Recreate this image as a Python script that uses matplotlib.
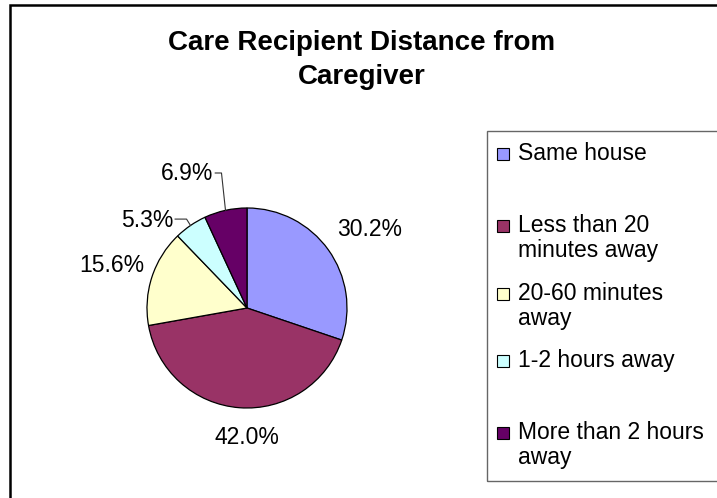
import numpy as np
import matplotlib
matplotlib.use("Agg")
import matplotlib.pyplot as plt
from matplotlib.patches import Rectangle

# ---- data ----
categories = ["Same house", "Less than 20 minutes away", "20-60 minutes away",
              "1-2 hours away", "More than 2 hours away"]
legend_lines = [["Same house"], ["Less than 20", "minutes away"], ["20-60 minutes", "away"],
                ["1-2 hours away"], ["More than 2 hours", "away"]]
values = [30.2, 42.0, 15.6, 5.3, 6.9]
colors = ["#9999FF", "#993366", "#FFFFCC", "#CCFFFF", "#660066"]
title_lines = ["Care Recipient Distance from", "Caregiver"]

W, H = 717, 498
plt.rcParams['font.family'] = ['Liberation Sans', 'DejaVu Sans']

fig = plt.figure(figsize=(W / 100, H / 100), dpi=100)
ax = fig.add_axes([0, 0, 1, 1])

def Y(y):  # convert top-down pixel to axis y
    return H - y

# pie
cx, cy, R = 247, Y(308), 100
wedges, _ = ax.pie(values, colors=colors, startangle=90, counterclock=False,
                   center=(cx, cy), radius=R, frame=True,
                   wedgeprops=dict(edgecolor='black', linewidth=0.9))
ax.set_xlim(0, W)
ax.set_ylim(0, H)
ax.axis('off')

# figure border (chart area)
ax.add_patch(Rectangle((10, -20), 800, Y(5) + 20, fill=False, edgecolor='black',
                       linewidth=1.8, clip_on=False))

# label placement (radius factor, angle deg) relative to pie centre
label_place = [(1.456, 32.4), (1.29, -90.0), (1.414, 162.7), (1.332, 138.7), (1.468, 114.1)]
leader = [False, False, False, True, True]
fs = 16.5
fig.canvas.draw()
for w, v, (rf, ang), ld in zip(wedges, values, label_place, leader):
    lx = cx + rf * R * np.cos(np.radians(ang))
    ly = cy + rf * R * np.sin(np.radians(ang))
    t = ax.text(lx, ly, f"{v:.1f}%", fontsize=fs, ha='center', va='center', color='black')
    if ld:
        mid = np.radians((w.theta1 + w.theta2) / 2)
        ex, ey = cx + R * np.cos(mid), cy + R * np.sin(mid)
        fig.canvas.draw()
        bb = t.get_window_extent().transformed(ax.transData.inverted())
        x0 = bb.x1 + 2
        ax.plot([x0, ex - 4, ex], [ly + 1, ly + 1, ey], color='#333333', linewidth=0.8)

# title
tcx = 362
ax.text(tcx, Y(50), title_lines[0], fontsize=20, fontweight='bold', ha='center', va='baseline')
ax.text(tcx, Y(84), title_lines[1], fontsize=20, fontweight='bold', ha='center', va='baseline')

# legend
ax.add_patch(Rectangle((487, Y(481)), 400, 481 - 131, fill=False, edgecolor='#666666',
                       linewidth=1.0, clip_on=False))
baselines = [160, 232, 300, 367, 439]
for lines, col, b in zip(legend_lines, colors, baselines):
    ax.add_patch(Rectangle((497, Y(b)), 12, 12, facecolor=col, edgecolor='black', linewidth=0.8))
    for k, ln in enumerate(lines):
        ax.text(518, Y(b + 25 * k), ln, fontsize=fs, ha='left', va='baseline')

fig.savefig("out.png", dpi=100)
